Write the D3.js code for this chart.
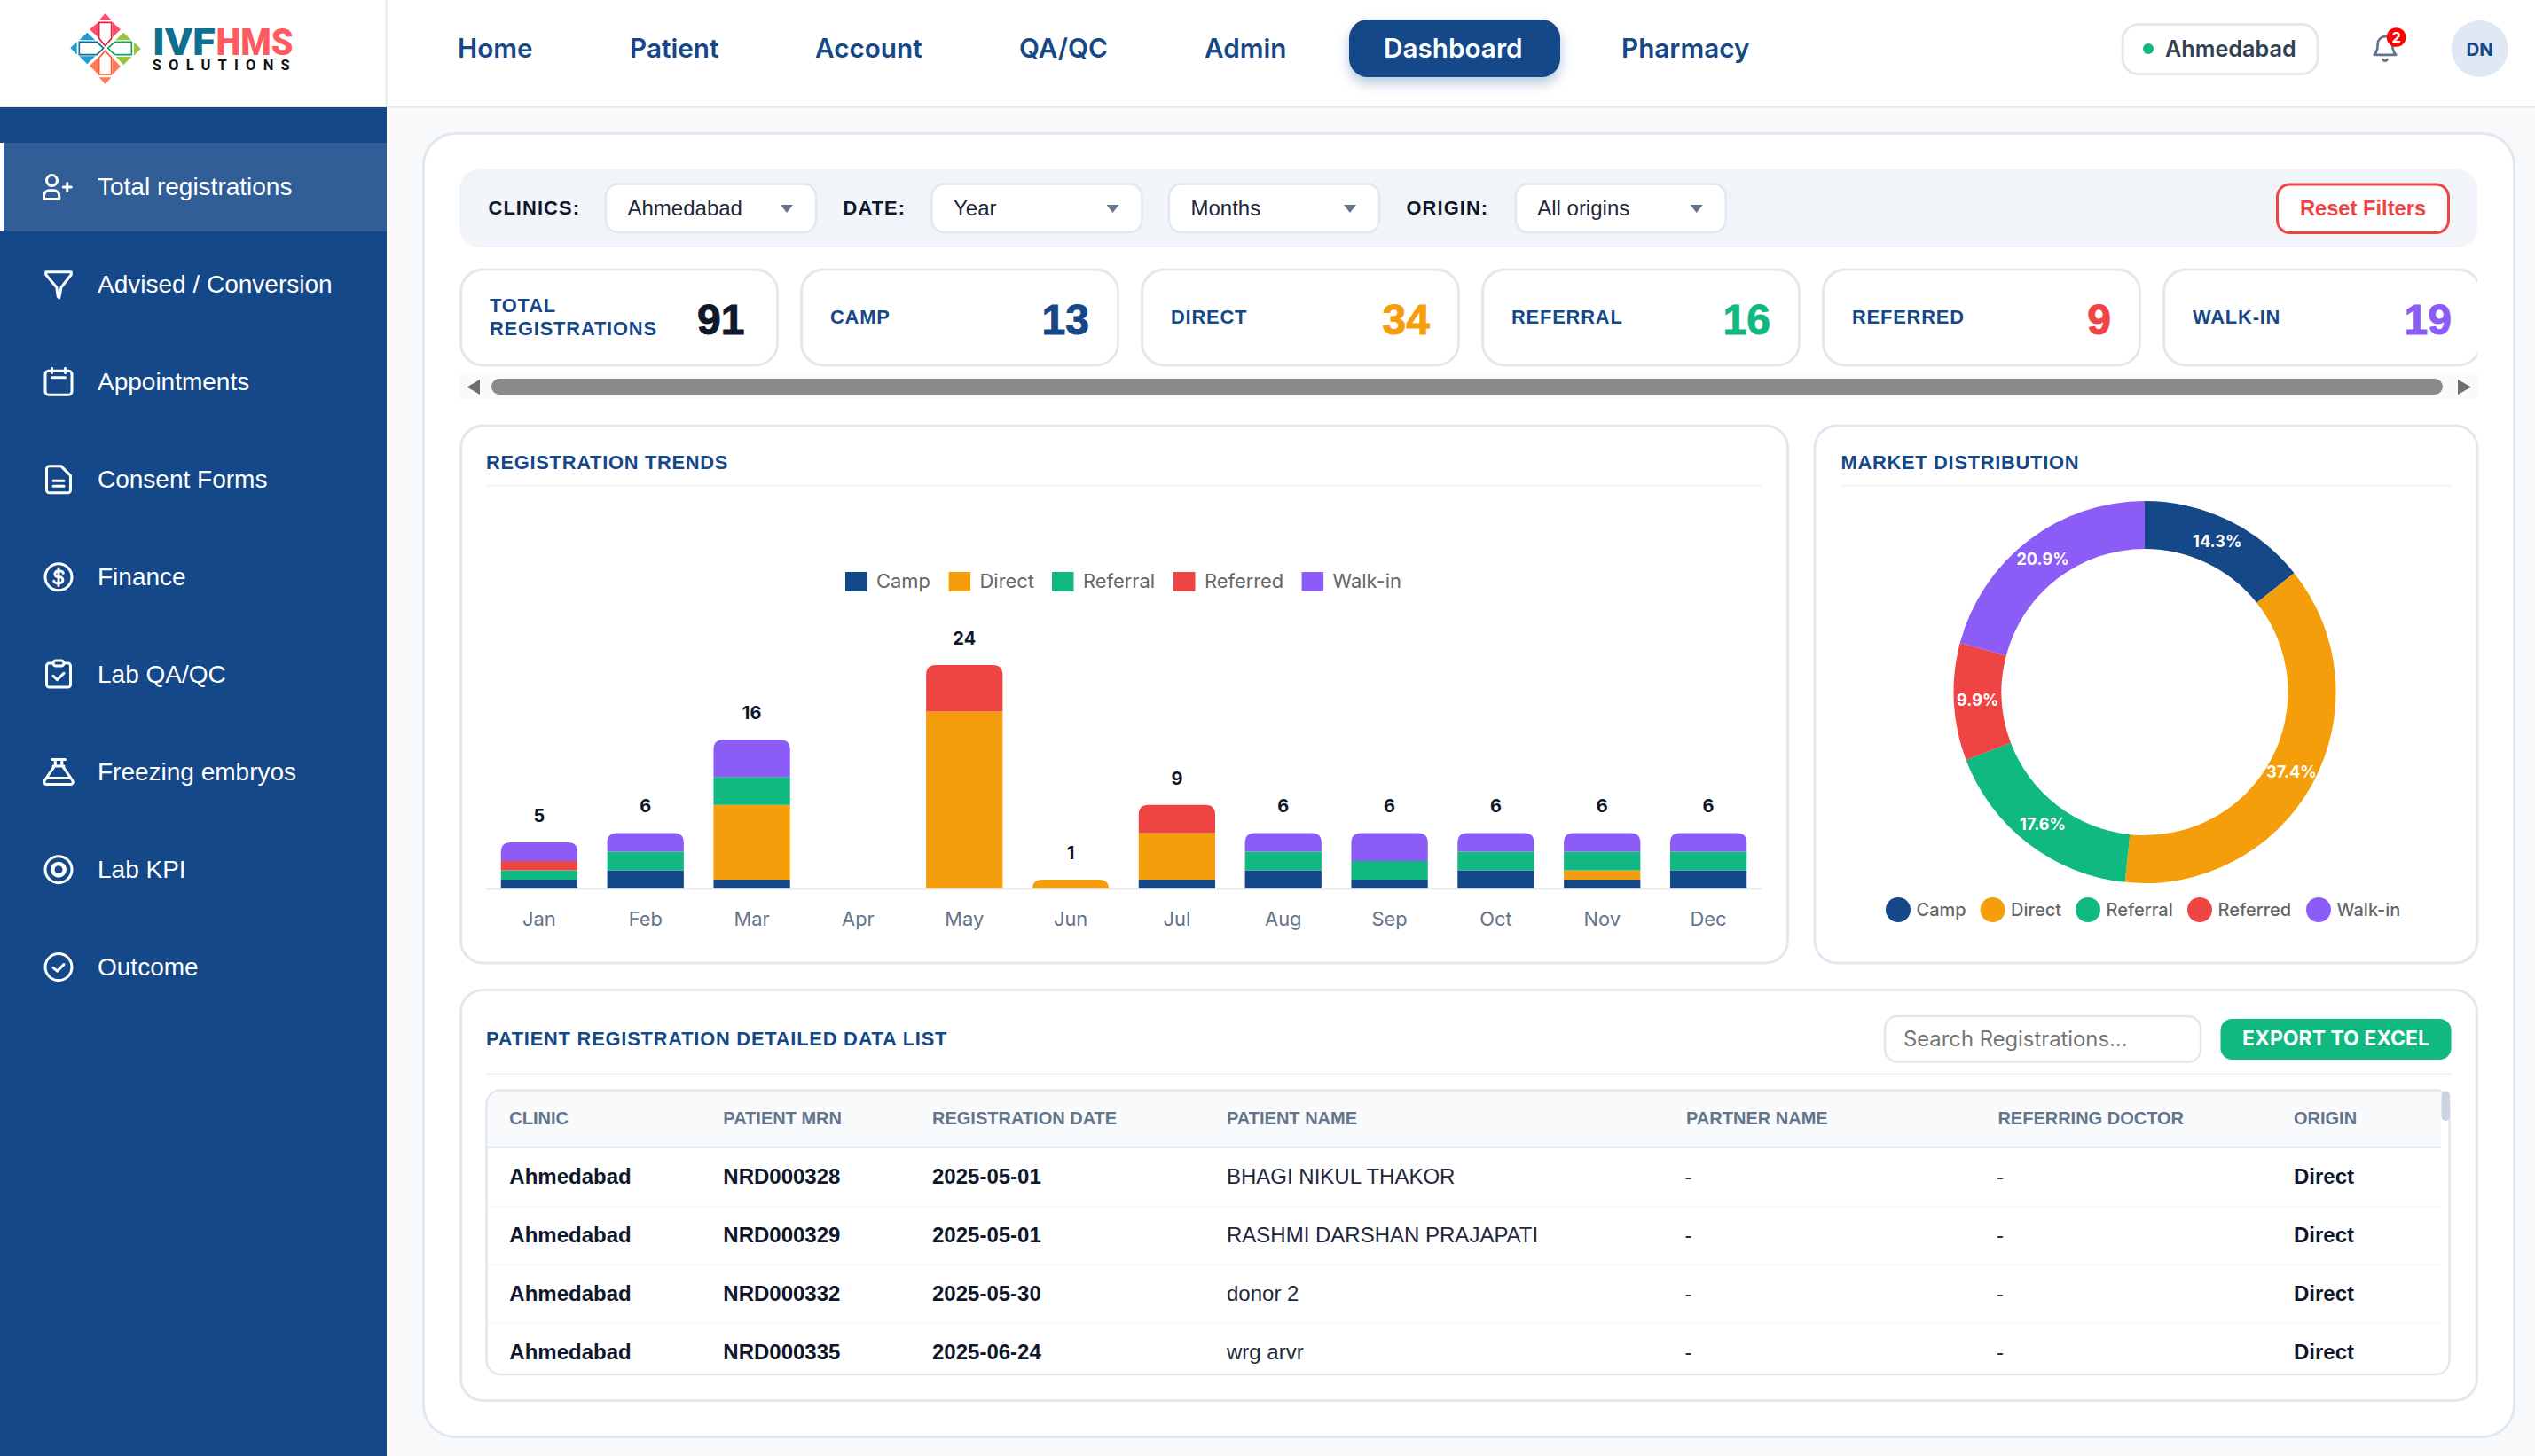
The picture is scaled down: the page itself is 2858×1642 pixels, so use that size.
<!DOCTYPE html>
<html>
<head>
<meta charset="utf-8">
<title>Dashboard</title>
<script src="https://cdn.jsdelivr.net/npm/d3@7/dist/d3.min.js"></script>
<style>
  html, body { margin: 0; padding: 0; background: #f7f9fb; overflow: hidden; }
  svg { display: block; }
</style>
</head>
<body>
<script>
// chart values
const months = ['Jan','Feb','Mar','Apr','May','Jun','Jul','Aug','Sep','Oct','Nov','Dec'];
const seriesNames = ['Camp','Direct','Referral','Referred','Walk-in'];
const camp     = [1,2,1,0,0,0,1,2,1,2,1,2];
const direct   = [0,0,8,0,19,1,5,0,0,0,1,0];
const referral = [1,2,3,0,0,0,0,2,2,2,2,2];
const referred = [1,0,0,0,5,0,3,0,0,0,0,0];
const walkIn   = [2,2,4,0,0,0,0,2,3,2,2,2];
const seriesColors = ['#154888','#f59e0b','#10b981','#ef4444','#8b5cf6'];

const kpiLabels = [['TOTAL','REGISTRATIONS'],['CAMP'],['DIRECT'],['REFERRAL'],['REFERRED'],['WALK-IN']];
const kpiValues = [91,13,34,16,9,19];
const kpiColors = ['#0f172a','#154888','#f59e0b','#10b981','#ef4444','#8b5cf6'];

const sideItems = ['Total registrations','Advised / Conversion','Appointments','Consent Forms','Finance','Lab QA/QC','Freezing embryos','Lab KPI','Outcome'];
const navItems = ['Home','Patient','Account','QA/QC','Admin','Dashboard','Pharmacy'];

const tableHead = ['CLINIC','PATIENT MRN','REGISTRATION DATE','PATIENT NAME','PARTNER NAME','REFERRING DOCTOR','ORIGIN'];
const tableRows = [
  ['Ahmedabad','NRD000328','2025-05-01','BHAGI NIKUL THAKOR','-','-','Direct'],
  ['Ahmedabad','NRD000329','2025-05-01','RASHMI DARSHAN PRAJAPATI','-','-','Direct'],
  ['Ahmedabad','NRD000332','2025-05-30','donor 2','-','-','Direct'],
  ['Ahmedabad','NRD000335','2025-06-24','wrg arvr','-','-','Direct']
];

// layout
const NAVY = '#154888', LINE = '#e2e8f0', SLATE = '#64748b', INK = '#0f172a';
const ARIAL = '"Liberation Sans", Arial, sans-serif';
const INTER = 'Inter, sans-serif';

const svg = d3.select('body').append('svg').attr('width', 2858).attr('height', 1642);

function box(x, y, w, h, r, fill, stroke, sw) {
  return svg.append('rect').attr('x', x).attr('y', y).attr('width', w).attr('height', h).attr('rx', r)
    .attr('fill', fill).attr('stroke', stroke || 'none').attr('stroke-width', sw || 0);
}
function label(parent, s, x, y, size, color, font, weight, anchor, spacing) {
  return parent.append('text').attr('x', x).attr('y', y).text(s)
    .attr('font-size', size).attr('fill', color).attr('font-family', font)
    .attr('font-weight', weight || 400).attr('text-anchor', anchor || 'start')
    .attr('letter-spacing', spacing || 0);
}

// header and sidebar
svg.append('rect').attr('width', 2858).attr('height', 119).attr('fill', '#fff');
svg.append('rect').attr('y', 119).attr('width', 2858).attr('height', 2.5).attr('fill', LINE);
svg.append('rect').attr('x', 434.5).attr('width', 2).attr('height', 120).attr('fill', LINE);
svg.append('rect').attr('y', 121).attr('width', 436).attr('height', 1521).attr('fill', NAVY);
svg.append('rect').attr('y', 161).attr('width', 436).attr('height', 100).attr('fill', '#fff').attr('opacity', 0.12);
svg.append('rect').attr('y', 161).attr('width', 4).attr('height', 100).attr('fill', '#fff');

// logo
const logo = svg.append('g').attr('transform', 'translate(70,10) scale(0.3333)');
const logoFill = [
  ['#ff4d6d', ['146,15 125,38 167,38','122,45 122,97 93,70','170,45 170,97 198,70']],
  ['#1f9fd0', ['28,132 50,110 50,155','85,80 112,106 58,106','58,160 112,160 85,187']],
  ['#9bc53d', ['266,135 243,112 243,158','208,80 235,106 180,106','182,162 235,162 208,190']],
  ['#ff7a59', ['146,255 125,232 167,232','122,165 122,222 93,192','170,165 170,222 198,195']]
];
logoFill.forEach(([c, polys]) => polys.forEach(p => logo.append('polygon').attr('points', p).attr('fill', c)));
const logoLine = [
  ['#e8203f','125,46 167,46 167,100 146,125 125,100'],
  ['#0e6f8e','58,112 118,112 140,133 118,155 58,155'],
  ['#10a36b','235,112 178,112 155,133 178,155 235,155'],
  ['#ff5a2e','146,142 167,165 167,222 125,222 125,165']
];
logoLine.forEach(([c, p]) => logo.append('polygon').attr('points', p).attr('fill', '#fff').attr('stroke', c).attr('stroke-width', 5));
label(svg, 'IVF', 171.7, 61.7, 43, '#0e6f8e', 'Roboto, sans-serif', 900).attr('textLength', 71).attr('lengthAdjust', 'spacingAndGlyphs');
label(svg, 'HMS', 243.5, 61.7, 43, '#ff5a5f', 'Roboto, sans-serif', 900).attr('textLength', 87).attr('lengthAdjust', 'spacingAndGlyphs');
label(svg, 'SOLUTIONS', 171.7, 79, 16.5, '#111', 'Roboto, sans-serif', 700).attr('textLength', 155);

// nav
const navX = [516, 710, 919, 1149, 1358, 1560, 1828];
box(1521, 22, 238, 65, 21, NAVY).style('filter', 'drop-shadow(0 7px 7px rgba(21,72,136,0.3))');
navItems.forEach((d, i) => label(svg, d, navX[i], 64.6, 29.7, d === 'Dashboard' ? '#fff' : NAVY, INTER, 600));

box(2393, 27.5, 220, 56, 18, '#fff', LINE, 3);
svg.append('circle').attr('cx', 2422).attr('cy', 55).attr('r', 6).attr('fill', '#10b981');
label(svg, 'Ahmedabad', 2441, 64, 25.2, '#334155', INTER, 600);

const bell = svg.append('g').attr('transform', 'translate(2672.5,38.5) scale(1.37)')
  .attr('fill', 'none').attr('stroke', SLATE).attr('stroke-width', 2).attr('stroke-linecap', 'round').attr('stroke-linejoin', 'round');
bell.append('path').attr('d', 'M18 8A6 6 0 0 0 6 8c0 7-3 9-3 9h18s-3-2-3-9');
bell.append('path').attr('d', 'M13.73 21a2 2 0 0 1-3.46 0');
svg.append('circle').attr('cx', 2701.6).attr('cy', 42).attr('r', 10.8).attr('fill', '#ff0000');
label(svg, '2', 2701.6, 48, 16.5, '#fff', INTER, 700, 'middle');
svg.append('circle').attr('cx', 2795.7).attr('cy', 55).attr('r', 32).attr('fill', '#e0e7f5');
label(svg, 'DN', 2795.7, 62.5, 20.5, NAVY, INTER, 700, 'middle');

// sidebar icons, 24 unit grid
const sideIcons = [
  g => { g.append('path').attr('d', 'M12.5 21v-2.5a4 4 0 0 0-4-4H5a4 4 0 0 0-4 4V21z'); g.append('circle').attr('cx', 7).attr('cy', 7).attr('r', 4); g.append('path').attr('d', 'M18.5 9v6M21.5 12h-6'); },
  g => { g.append('path').attr('d', 'M2.5 2.5h19v2L14 14l-1.5 8-1-1-1-7-8-9.5z'); },
  g => { g.append('rect').attr('x', 2).attr('y', 3.5).attr('width', 20).attr('height', 18).attr('rx', 2.5); g.append('path').attr('d', 'M7 1.5v3.5M17 1.5v3.5M7 8.5h10'); },
  g => { g.append('path').attr('d', 'M14 2H5a2 2 0 0 0-2 2v16a2 2 0 0 0 2 2h14a2 2 0 0 0 2-2V9zM8 13h8M8 17h8'); },
  g => { g.append('circle').attr('cx', 12).attr('cy', 12).attr('r', 10); g.append('path').attr('d', 'M15.5 9a2.5 2 0 0 0-2.5-1.5h-1.5a2.2 2.2 0 0 0 0 4.5h1.5a2.2 2.2 0 0 1 0 4.5h-1.5A2.5 2 0 0 1 8.5 15M12 5.5v13'); },
  g => { g.append('rect').attr('x', 3).attr('y', 3.5).attr('width', 18).attr('height', 18).attr('rx', 2); g.append('rect').attr('x', 8).attr('y', 1.5).attr('width', 8).attr('height', 4).attr('rx', 2).attr('fill', NAVY); g.append('path').attr('d', 'M8 13l3 3 5-5'); },
  g => { g.append('path').attr('d', 'M7 2.5h10M8 7.5h8M9.5 2.5v5M14.5 2.5v5M9 7.5l-7.5 11a1.7 1.7 0 0 0 1.4 2.7h18.2a1.7 1.7 0 0 0 1.4-2.7L15 7.5M4 16.5h16'); },
  g => { g.append('circle').attr('cx', 12).attr('cy', 12).attr('r', 10); g.append('circle').attr('cx', 12).attr('cy', 12).attr('r', 4.5).attr('stroke-width', 3); },
  g => { g.append('circle').attr('cx', 12).attr('cy', 12).attr('r', 10); g.append('path').attr('d', 'M8 12.5l3 2.5 5-5'); }
];
sideItems.forEach((d, i) => {
  const g = svg.append('g').attr('transform', `translate(${66 - 18},${211 + 109.95 * i - 18}) scale(1.5)`)
    .attr('fill', 'none').attr('stroke', '#fff').attr('stroke-width', 2).attr('stroke-linecap', 'round').attr('stroke-linejoin', 'round');
  sideIcons[i](g);
  label(svg, d, 110, 220 + 109.95 * i, 28, '#fff', ARIAL);
});

// main panel
box(477.5, 150.5, 2357, 1470, 36, '#fff', LINE, 3);

// filter bar
box(518, 191, 2275, 88, 22, '#f1f5f9');
const filterLabels = [['CLINICS:', 550.5], ['DATE:', 950.5], ['ORIGIN:', 1585.5]];
filterLabels.forEach(([s, x]) => label(svg, s, x, 241.7, 21.87, INK, ARIAL, 700, 'start', 1.1));
const selectText = ['Ahmedabad', 'Year', 'Months', 'All origins'];
const selectX = [683, 1050.5, 1318, 1708.7];
selectText.forEach((s, i) => {
  box(selectX[i], 207.5, 237, 54.5, 14, '#fff', LINE, 2.5);
  label(svg, s, selectX[i] + 24.5, 243, 24, '#1e293b', ARIAL);
  const cx = selectX[i] + 204;
  svg.append('path').attr('d', `M${cx - 7},231 h14 l-7,9 z`).attr('fill', SLATE);
});
box(2567.5, 208, 193, 54.5, 14, '#fff', '#ef4444', 3);
label(svg, 'Reset Filters', 2664, 242.6, 23.7, '#ef4444', ARIAL, 700, 'middle');

// kpi cards, last one runs off the strip
const kpiClip = svg.append('clipPath').attr('id', 'kpi-clip');
kpiClip.append('rect').attr('x', 516).attr('y', 296).attr('width', 2277).attr('height', 122);
const kpi = svg.append('g').attr('clip-path', 'url(#kpi-clip)');
kpiValues.forEach((v, i) => {
  const x = 519.5 + 384 * i;
  kpi.append('rect').attr('x', x).attr('y', 304).attr('width', 357).attr('height', 108).attr('rx', 25)
    .attr('fill', '#fff').attr('stroke', LINE).attr('stroke-width', 3);
  const lines = kpiLabels[i];
  lines.forEach((s, j) => label(kpi, s, x + 32.5, lines.length > 1 ? 351.7 + 26 * j : 365, 21.87, NAVY, ARIAL, 700, 'start', 0.82));
  label(kpi, v, x + (i === 0 ? 320 : 324.5), 377, 48, kpiColors[i], ARIAL, 700, 'end')
    .attr('stroke', kpiColors[i]).attr('stroke-width', 1);
});

// horizontal scrollbar
svg.append('rect').attr('x', 518).attr('y', 420).attr('width', 2275).attr('height', 30).attr('fill', '#fafafa');
box(554, 427, 2200, 18, 9, '#8a8a8a');
svg.append('path').attr('d', 'M541,428 v17 l-14.5,-8.5 z').attr('fill', '#6f6f6f');
svg.append('path').attr('d', 'M2771,428 v17 l15,-8.5 z').attr('fill', '#6f6f6f');

// trends card
box(519.5, 480, 1496, 606, 25, '#fff', LINE, 3);
label(svg, 'REGISTRATION TRENDS', 548, 529, 21.87, NAVY, ARIAL, 700, 'start', 0.72);
svg.append('rect').attr('x', 548).attr('y', 546.5).attr('width', 1438).attr('height', 2).attr('fill', '#f1f5f9');

const monthRows = months.map((m, i) => ({
  month: m, Camp: camp[i], Direct: direct[i], Referral: referral[i], Referred: referred[i], 'Walk-in': walkIn[i]
}));
const stacked = d3.stack().keys(seriesNames)(monthRows);
const totals = monthRows.map(r => d3.sum(seriesNames, k => r[k]));

const x = d3.scaleBand().domain(months).range([548, 1986]).paddingInner(0.28).paddingOuter(0.14);
const y = d3.scaleLinear().domain([0, 24]).range([1002.5, 750]);
const color = d3.scaleOrdinal().domain(seriesNames).range(seriesColors);

// only the top segment of a bar gets rounded corners
const topKey = (i) => seriesNames.filter(k => monthRows[i][k] > 0).slice(-1)[0];
function segPath(d, i, key) {
  const x0 = x(months[i]), w = x.bandwidth(), y0 = y(d[0]), y1 = y(d[1]);
  if (key !== topKey(i)) return `M${x0},${y0}H${x0 + w}V${y1}H${x0}Z`;
  const r = 11;
  return `M${x0},${y0}V${y1 + r}Q${x0},${y1} ${x0 + r},${y1}H${x0 + w - r}Q${x0 + w},${y1} ${x0 + w},${y1 + r}V${y0}Z`;
}
const bars = svg.append('g');
stacked.forEach(layer => {
  bars.selectAll(null).data(layer).join('path')
    .filter(d => d[1] > d[0])
    .attr('d', d => segPath(d, months.indexOf(d.data.month), layer.key))
    .attr('fill', color(layer.key));
});
svg.append('line').attr('x1', 548).attr('x2', 1986).attr('y1', y(0)).attr('y2', y(0))
  .attr('stroke', '#e2e2e2').attr('stroke-width', 2).attr('stroke-opacity', 0.8);

svg.append('g').selectAll('text').data(months.filter((m, i) => totals[i] > 0)).join('text')
  .attr('x', m => x(m) + x.bandwidth() / 2)
  .attr('y', m => y(totals[months.indexOf(m)]) - 23)
  .attr('text-anchor', 'middle').attr('font-size', 20).attr('font-weight', 700)
  .attr('font-family', INTER).attr('fill', INK)
  .text(m => totals[months.indexOf(m)]);

const xAxis = svg.append('g').attr('transform', `translate(0,${y(0)})`)
  .call(d3.axisBottom(x).tickSize(0).tickPadding(26));
xAxis.select('.domain').remove();
xAxis.selectAll('text').attr('font-size', 21.87).attr('font-family', INTER).attr('fill', SLATE);

const legendX = [953, 1069.6, 1186, 1323, 1467.6];
seriesNames.forEach((s, i) => {
  svg.append('rect').attr('x', legendX[i]).attr('y', 645).attr('width', 24.5).attr('height', 22).attr('fill', color(s));
  label(svg, s, legendX[i] + 35, 662.8, 21.87, '#666', INTER);
});

// donut card
box(2046, 480, 747, 606, 25, '#fff', LINE, 3);
label(svg, 'MARKET DISTRIBUTION', 2075.5, 529, 21.87, NAVY, ARIAL, 700, 'start', 0.72);
svg.append('rect').attr('x', 2076).attr('y', 546.5).attr('width', 687.5).attr('height', 2).attr('fill', '#f1f5f9');

const shares = [camp, direct, referral, referred, walkIn].map(a => d3.sum(a));
const totalShare = d3.sum(shares);
const pie = d3.pie().sort(null)(shares);
const arc = d3.arc().innerRadius(161.5).outerRadius(215.5);
const donut = svg.append('g').attr('transform', 'translate(2418,780.5)');
donut.selectAll('path').data(pie).join('path').attr('d', arc).attr('fill', (d, i) => seriesColors[i]);
donut.selectAll('text').data(pie).join('text')
  .attr('transform', d => `translate(${arc.centroid(d)})`)
  .attr('text-anchor', 'middle').attr('dy', '0.33em')
  .attr('font-size', 18.2).attr('font-weight', 700).attr('font-family', INTER).attr('fill', '#fff')
  .text(d => d3.format('.1f')(d.value / totalShare * 100) + '%');

const dotX = [2140, 2246.6, 2354, 2480, 2614];
seriesNames.forEach((s, i) => {
  svg.append('circle').attr('cx', dotX[i]).attr('cy', 1026).attr('r', 14).attr('fill', color(s));
  label(svg, s, dotX[i] + 20.5, 1032.5, 20, '#666', INTER, 500);
});

// table card
box(519.5, 1116.5, 2273, 463, 25, '#fff', LINE, 3);
label(svg, 'PATIENT REGISTRATION DETAILED DATA LIST', 548, 1179, 21.87, NAVY, ARIAL, 700, 'start', 0.78);
svg.append('rect').attr('x', 548).attr('y', 1210).attr('width', 2215.5).attr('height', 2).attr('fill', '#f1f5f9');
box(2125, 1146, 356, 51.5, 14, '#fff', LINE, 2.5);
label(svg, 'Search Registrations...', 2146, 1179.6, 23.8, '#757575', INTER);
box(2503.5, 1149, 260, 46, 13, '#10b981');
label(svg, 'EXPORT TO EXCEL', 2633.5, 1179, 23, '#fff', INTER, 700, 'middle');

box(548.5, 1229.5, 2213, 320.5, 16, '#fff', LINE, 2.5);
svg.append('path').attr('d', 'M550,1293V1247a16,16 0 0 1 16,-16H2752V1293Z').attr('fill', '#f8fafc');
svg.append('rect').attr('x', 550).attr('y', 1292.5).attr('width', 2202).attr('height', 2.5).attr('fill', LINE);
box(2752.5, 1230.5, 9.5, 33.5, 4.7, '#cbd5e1');

const colX = [574.3, 815.3, 1051, 1383, 1901, 2252.4, 2586];
const boldCol = [true, true, true, false, false, false, true];
tableHead.forEach((s, i) => label(svg, s, colX[i], 1267.8, 20, SLATE, ARIAL, 700));
tableRows.forEach((row, r) => {
  if (r > 0) svg.append('rect').attr('x', 550).attr('y', 1293.5 + 66 * r).attr('width', 2202).attr('height', 2).attr('fill', '#f8fafc');
  row.forEach((s, i) => label(svg, s, i === 4 || i === 5 ? colX[i] - 1.5 : colX[i], 1334.7 + 66 * r, 24, boldCol[i] ? INK : '#1e293b', ARIAL, boldCol[i] ? 700 : 400));
});
</script>
</body>
</html>
